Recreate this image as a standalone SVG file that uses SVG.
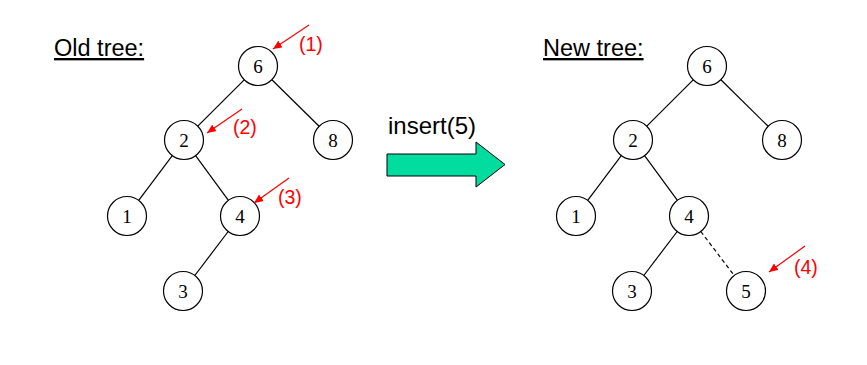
<svg xmlns="http://www.w3.org/2000/svg" width="867" height="365" viewBox="0 0 867 365">
  <style>
    .node circle { fill: #ffffff; stroke: #000000; stroke-width: 1.2; }
    .node text { font-family: "Liberation Serif", "Times New Roman", serif; font-size: 19px; fill: #000000; text-anchor: middle; }
    .edge { stroke: #000000; stroke-width: 1.2; fill: none; }
    .dashed { stroke-dasharray: 4 3; }
    .title { font-family: "Liberation Sans", Arial, sans-serif; font-size: 23.5px; fill: #000000; text-decoration: underline; }
    .step { font-family: "Liberation Sans", Arial, sans-serif; font-size: 19.5px; fill: #ff0000; }
    .pointer { stroke: #ff0000; stroke-width: 1.2; fill: none; marker-end: url(#redhead); }
    .op { font-family: "Liberation Sans", Arial, sans-serif; font-size: 24px; fill: #000000; }
  </style>
  <defs>
    <marker id="redhead" markerUnits="userSpaceOnUse" markerWidth="10" markerHeight="8" refX="9" refY="4" orient="auto">
      <path d="M0,0 L9,4 L0,8 Z" fill="#ff0000"/>
    </marker>
  </defs>

  <rect width="867" height="365" fill="#ffffff"/>

  <!-- headings -->
  <text class="title" x="54" y="56">Old tree:</text>
  <text class="title" x="543" y="56">New tree:</text>

  <!-- insert operation arrow -->
  <g id="insert-op">
    <text class="op" x="388" y="134">insert(5)</text>
    <path d="M387,154 L476,154 L476,142 L505,164.5 L476,187 L476,176 L387,176 Z" fill="#00dd9f" stroke="#000000" stroke-width="1"/>
  </g>

  <!-- connectors -->
  <g id="edges">
    <line class="edge" x1="244.2" y1="79.8" x2="197.8" y2="126.2"/>
    <line class="edge" x1="271.9" y1="79.7" x2="319.1" y2="126.3"/>
    <line class="edge" x1="172.3" y1="155.6" x2="138.7" y2="200.4"/>
    <line class="edge" x1="195.6" y1="155.7" x2="228.4" y2="200.3"/>
    <line class="edge" x1="228.2" y1="231.5" x2="194.8" y2="275.5"/>

    <line class="edge" x1="693.2" y1="79.8" x2="646.8" y2="126.2"/>
    <line class="edge" x1="720.9" y1="79.7" x2="768.1" y2="126.3"/>
    <line class="edge" x1="621.3" y1="155.6" x2="587.7" y2="200.4"/>
    <line class="edge" x1="644.6" y1="155.7" x2="677.4" y2="200.3"/>
    <line class="edge" x1="677.2" y1="231.5" x2="643.8" y2="275.5"/>
    <line class="edge dashed" x1="700.8" y1="231.5" x2="734.2" y2="275.5"/>
  </g>

  <!-- old tree nodes -->
  <g id="old-6" class="node"><circle cx="258" cy="66" r="19.5"/><text x="258" y="72.5">6</text></g>
  <g id="old-2" class="node"><circle cx="184" cy="140" r="19.5"/><text x="184" y="146.5">2</text></g>
  <g id="old-8" class="node"><circle cx="333" cy="140" r="19.5"/><text x="333" y="146.5">8</text></g>
  <g id="old-1" class="node"><circle cx="127" cy="216" r="19.5"/><text x="127" y="222.5">1</text></g>
  <g id="old-4" class="node"><circle cx="240" cy="216" r="19.5"/><text x="240" y="222.5">4</text></g>
  <g id="old-3" class="node"><circle cx="183" cy="291" r="19.5"/><text x="183" y="297.5">3</text></g>

  <!-- new tree nodes -->
  <g id="new-6" class="node"><circle cx="707" cy="66" r="19.5"/><text x="707" y="72.5">6</text></g>
  <g id="new-2" class="node"><circle cx="633" cy="140" r="19.5"/><text x="633" y="146.5">2</text></g>
  <g id="new-8" class="node"><circle cx="782" cy="140" r="19.5"/><text x="782" y="146.5">8</text></g>
  <g id="new-1" class="node"><circle cx="576" cy="216" r="19.5"/><text x="576" y="222.5">1</text></g>
  <g id="new-4" class="node"><circle cx="689" cy="216" r="19.5"/><text x="689" y="222.5">4</text></g>
  <g id="new-3" class="node"><circle cx="632" cy="291" r="19.5"/><text x="632" y="297.5">3</text></g>
  <g id="new-5" class="node"><circle cx="746" cy="291" r="19.5"/><text x="746" y="297.5">5</text></g>

  <!-- step pointers -->
  <g id="steps">
    <line class="pointer" x1="309" y1="25" x2="273" y2="49"/>
    <text class="step" x="299" y="51">(1)</text>
    <line class="pointer" x1="242" y1="109" x2="207" y2="133"/>
    <text class="step" x="233" y="134">(2)</text>
    <line class="pointer" x1="289" y1="178" x2="254" y2="203"/>
    <text class="step" x="278" y="204">(3)</text>
    <line class="pointer" x1="805" y1="246" x2="769" y2="272"/>
    <text class="step" x="794" y="274">(4)</text>
  </g>
</svg>
